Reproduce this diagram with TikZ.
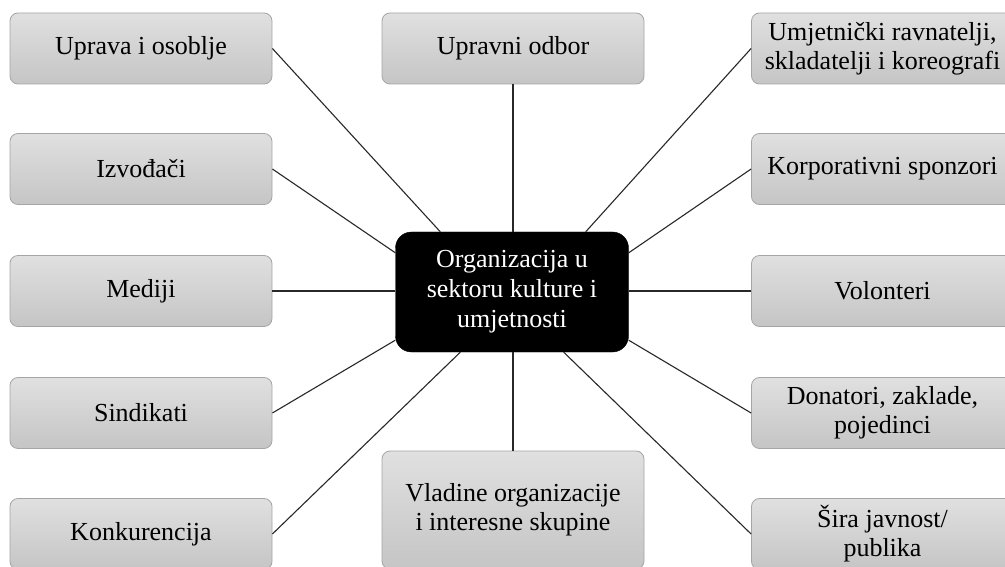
\documentclass[tikz,border=0pt]{standalone}
\usepackage{fontspec}
\setmainfont{Liberation Serif}
\definecolor{boxtop}{RGB}{224,224,224}
\definecolor{boxbot}{RGB}{197,197,197}
\definecolor{boxline}{RGB}{165,165,165}
\definecolor{linkcol}{RGB}{40,40,40}
\begin{document}
\begin{tikzpicture}[x=1pt,y=-1pt,
  sbox/.style={draw=boxline, line width=0.8pt, rounded corners=8pt,
    top color=boxtop, bottom color=boxbot, minimum width=262pt,
    minimum height=71pt, align=center, inner sep=2pt,
    font=\fontsize{26}{29}\selectfont, text=black},
  hub/.style={fill=black, draw=black, rounded corners=16pt, minimum width=233pt,
    minimum height=120pt, align=center, inner sep=2pt,
    font=\fontsize{26}{30}\selectfont, text=white},
  link/.style={draw=linkcol, line width=1.1pt}]
\useasboundingbox (0,0) rectangle (1005,567);
\clip (0,0) rectangle (1005,567);
\fill[white] (0,0) rectangle (1005,567);
% hub
\node[hub] (c) at (512,292) {Organizacija u\\sektoru kulture i\\umjetnosti};
% left column
\node[sbox] (u) at (141,48.5) {Uprava i osoblje};
\node[sbox] (i) at (141,169) {Izvođači};
\node[sbox] (m) at (141,291) {Mediji};
\node[sbox] (s) at (141,413) {Sindikati};
\node[sbox] (k) at (141,534) {Konkurencija};
% middle
\node[sbox] (uo) at (513,48.5) {Upravni odbor};
\node[sbox, minimum height=118pt] (vl) at (513,510) {Vladine organizacije\\i interesne skupine};
% right column
\node[sbox] (um) at (882.5,48.5) {Umjetnički ravnatelji,\\skladatelji i koreografi};
\node[sbox] (ko) at (882.5,169) {Korporativni sponzori};
\node[sbox] (v) at (882.5,291) {Volonteri};
\node[sbox] (d) at (882.5,413) {Donatori, zaklade,\\pojedinci};
\node[sbox] (sj) at (882.5,534) {Šira javnost/\\publika};
% connectors
\draw[link] (u.east) -- ([xshift=45pt]c.north west);
\draw[link] (i.east) -- ([yshift=-21pt]c.north west);
\draw[link] (m.east) -- (m.east -| c.west);
\draw[link] (s.east) -- ([yshift=12pt]c.south west);
\draw[link] (k.east) -- ([xshift=65pt]c.south west);
\draw[link] (uo.south) -- (uo.south |- c.north);
\draw[link] (vl.north) -- (vl.north |- c.south);
\draw[link] (um.west) -- ([xshift=-43pt]c.north east);
\draw[link] (ko.west) -- ([yshift=-21pt]c.north east);
\draw[link] (v.west) -- (v.west -| c.east);
\draw[link] (d.west) -- ([yshift=12pt]c.south east);
\draw[link] (sj.west) -- ([xshift=-65pt]c.south east);
\end{tikzpicture}
\end{document}
